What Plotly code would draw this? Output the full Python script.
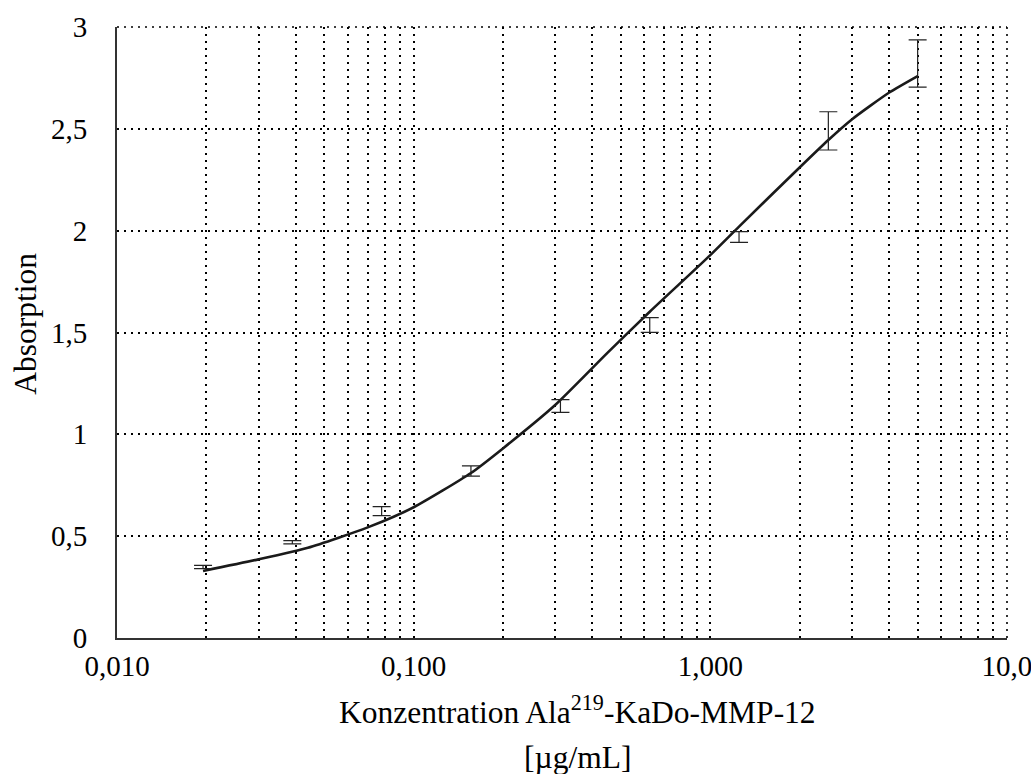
import plotly.graph_objects as go

# Measured data (mean absorption with standard deviation)
conc = [0.0195, 0.039, 0.078, 0.156, 0.3125, 0.625, 1.25, 2.5, 5.0]
absorption = [0.349, 0.470, 0.623, 0.820, 1.139, 1.537, 1.969, 2.490, 2.821]
abs_err = [0.008, 0.008, 0.022, 0.025, 0.031, 0.036, 0.026, 0.094, 0.116]

# Fitted curve
fit_x = [0.0195, 0.03, 0.044, 0.07, 0.1, 0.156, 0.2, 0.3, 0.45, 0.625, 1.0, 1.25, 2.0, 2.5, 3.0, 4.0, 5.0]
fit_y = [0.329, 0.386, 0.443, 0.543, 0.642, 0.81, 0.931, 1.144, 1.40, 1.602, 1.88, 2.02, 2.31, 2.445, 2.546, 2.677, 2.759]

# Axis ticks
x_tick_vals = [0.01, 0.02, 0.03, 0.04, 0.05, 0.06, 0.07, 0.08, 0.09,
               0.1, 0.2, 0.3, 0.4, 0.5, 0.6, 0.7, 0.8, 0.9,
               1, 2, 3, 4, 5, 6, 7, 8, 9, 10]
x_tick_text = ["0,010", "", "", "", "", "", "", "", "",
               "0,100", "", "", "", "", "", "", "", "",
               "1,000", "", "", "", "", "", "", "", "",
               "10,0"]
y_tick_vals = [0, 0.5, 1, 1.5, 2, 2.5, 3]
y_tick_text = ["0", "0,5", "1", "1,5", "2", "2,5", "3"]

FONT = "Liberation Serif, Times New Roman, serif"
GRID_DASH = "2px,5px"
TICK_SIZE = 29
TITLE_SIZE = 31.5

fig = go.Figure()
fig.add_trace(go.Scatter(
    x=fit_x, y=fit_y, mode="lines",
    line=dict(color="#1a1a1a", width=2.6, shape="spline", smoothing=0.6),
    hoverinfo="skip", showlegend=False,
))
fig.add_trace(go.Scatter(
    x=conc, y=absorption, mode="markers",
    marker=dict(size=1, color="rgba(0,0,0,0)"),
    error_y=dict(type="data", array=abs_err, visible=True,
                 color="#222222", thickness=1.2, width=9),
    showlegend=False,
))

# dotted frame on the top and right edges (like the grid)
border = dict(color="black", width=1.6, dash=GRID_DASH)
fig.add_shape(type="line", xref="paper", yref="paper", x0=0, x1=1, y0=1, y1=1,
              line=border, layer="below")
fig.add_shape(type="line", xref="paper", yref="paper", x0=1, x1=1, y0=0, y1=1,
              line=border, layer="below")

fig.update_layout(
    width=1031, height=774,
    margin=dict(l=117, r=24, t=27, b=136, autoexpand=False),
    paper_bgcolor="white", plot_bgcolor="white",
    font=dict(family=FONT, size=TICK_SIZE, color="black"),
    showlegend=False,
    xaxis=dict(
        type="log", range=[-2, 1.0002], automargin=False,
        tickmode="array", tickvals=x_tick_vals, ticktext=x_tick_text,
        ticks="outside", ticklen=1, tickcolor="rgba(0,0,0,0)",
        ticklabeloverflow="allow",
        showgrid=True, gridcolor="black", gridwidth=1.6, griddash=GRID_DASH,
        showline=True, linecolor="#333333", linewidth=2,
        zeroline=False,
        tickfont=dict(family=FONT, size=TICK_SIZE, color="black"),
    ),
    yaxis=dict(
        range=[0, 3], automargin=False,
        tickmode="array", tickvals=y_tick_vals, ticktext=y_tick_text,
        ticks="outside", ticklen=22, tickcolor="rgba(0,0,0,0)",
        showgrid=True, gridcolor="black", gridwidth=1.6, griddash=GRID_DASH,
        showline=True, linecolor="#333333", linewidth=2,
        zeroline=False,
        tickfont=dict(family=FONT, size=TICK_SIZE, color="black"),
    ),
    annotations=[
        dict(text="Konzentration Ala<sup>219</sup>-KaDo-MMP-12",
             xref="paper", yref="paper", x=0.517, y=-0.118,
             xanchor="center", yanchor="middle", showarrow=False,
             font=dict(family=FONT, size=TITLE_SIZE, color="black")),
        dict(text="[µg/mL]",
             xref="paper", yref="paper", x=0.517, y=-0.196,
             xanchor="center", yanchor="middle", showarrow=False,
             font=dict(family=FONT, size=TITLE_SIZE, color="black")),
        dict(text="Absorption", textangle=-90,
             xref="paper", yref="paper", x=-0.103, y=0.515,
             xanchor="center", yanchor="middle", showarrow=False,
             font=dict(family=FONT, size=TITLE_SIZE, color="black")),
    ],
)

fig.write_html("out.html")
